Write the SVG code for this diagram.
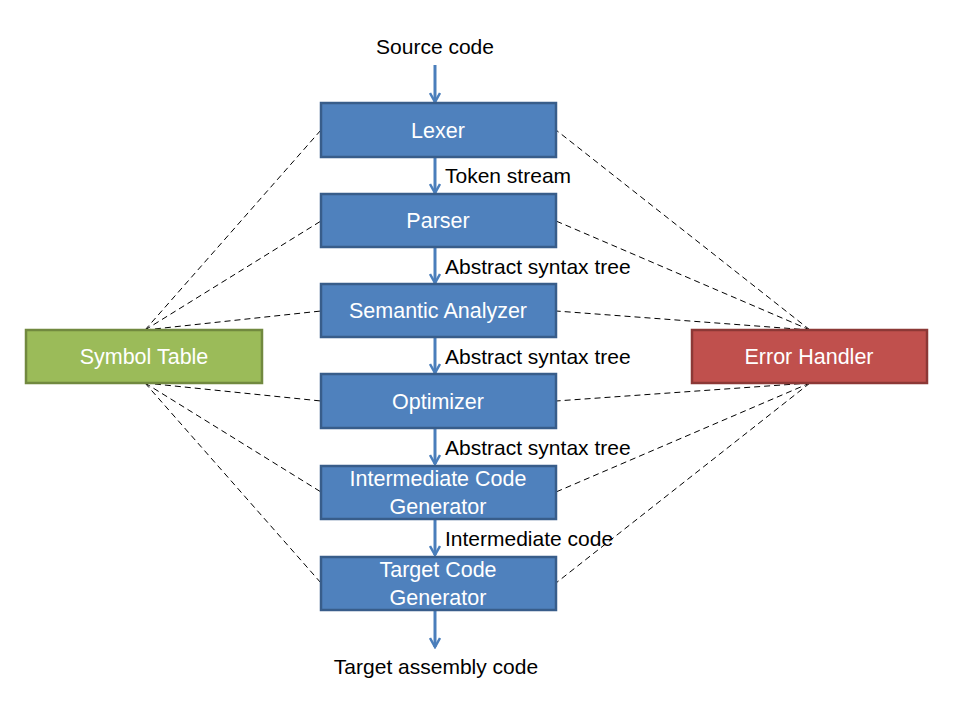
<svg xmlns="http://www.w3.org/2000/svg" width="960" height="720" viewBox="0 0 960 720">
<defs>
<marker id="ah" viewBox="0 0 12 12" refX="10" refY="6" markerWidth="12" markerHeight="12" markerUnits="userSpaceOnUse" orient="auto">
<polyline points="1,1 10,6 1,11" fill="none" stroke="#4a7ebb" stroke-width="2.5"/>
</marker>
<style>
.box{fill:#4f81bd;stroke:#385d8a;stroke-width:2.5}
.sym{fill:#9bbb59;stroke:#71893f;stroke-width:2.5}
.err{fill:#c0504d;stroke:#8c3836;stroke-width:2.5}
.bt{font-family:"Liberation Sans",Arial,sans-serif;font-size:21.5px;fill:#fff;text-anchor:middle}
.lt{font-family:"Liberation Sans",Arial,sans-serif;font-size:21px;fill:#000}
.flow{stroke:#4a7ebb;stroke-width:3;fill:none;marker-end:url(#ah)}
.dash{stroke:#000;stroke-width:1;stroke-dasharray:6 4;fill:none}
</style>
</defs>
<rect width="960" height="720" fill="#fff"/>
<g id="connectors">
<line class="dash" x1="145" y1="330" x2="321" y2="130"/>
<line class="dash" x1="145" y1="330" x2="321" y2="221"/>
<line class="dash" x1="145" y1="330" x2="321" y2="311"/>
<line class="dash" x1="145" y1="383" x2="321" y2="401"/>
<line class="dash" x1="145" y1="383" x2="321" y2="492"/>
<line class="dash" x1="145" y1="383" x2="321" y2="583"/>
<line class="dash" x1="810" y1="330" x2="556" y2="130"/>
<line class="dash" x1="810" y1="330" x2="556" y2="221"/>
<line class="dash" x1="810" y1="330" x2="556" y2="311"/>
<line class="dash" x1="810" y1="383" x2="556" y2="401"/>
<line class="dash" x1="810" y1="383" x2="556" y2="492"/>
<line class="dash" x1="810" y1="383" x2="556" y2="583"/>
<line class="flow" x1="435" y1="65" x2="435" y2="102"/>
<line class="flow" x1="435" y1="157" x2="435" y2="193"/>
<line class="flow" x1="435" y1="247" x2="435" y2="283"/>
<line class="flow" x1="435" y1="337" x2="435" y2="373"/>
<line class="flow" x1="435" y1="428" x2="435" y2="464"/>
<line class="flow" x1="435" y1="519" x2="435" y2="555"/>
<line class="flow" x1="435" y1="610" x2="435" y2="647"/>
<text class="lt" x="445" y="183">Token stream</text>
<text class="lt" x="445" y="274">Abstract syntax tree</text>
<text class="lt" x="445" y="364">Abstract syntax tree</text>
<text class="lt" x="445" y="455">Abstract syntax tree</text>
<text class="lt" x="445" y="546">Intermediate code</text>
</g>
<g id="source"><text class="lt" x="435" y="54" text-anchor="middle">Source code</text></g>
<g id="target"><text class="lt" x="436" y="674" text-anchor="middle">Target assembly code</text></g>
<g id="lexer"><rect class="box" x="321" y="103" width="235" height="54"/><text class="bt" x="438" y="138">Lexer</text></g>
<g id="parser"><rect class="box" x="321" y="194" width="235" height="53"/><text class="bt" x="438" y="228">Parser</text></g>
<g id="semantic"><rect class="box" x="321" y="284" width="235" height="53"/><text class="bt" x="438" y="318">Semantic Analyzer</text></g>
<g id="optimizer"><rect class="box" x="321" y="374" width="235" height="54"/><text class="bt" x="438" y="409">Optimizer</text></g>
<g id="icg"><rect class="box" x="321" y="466" width="235" height="53"/><text class="bt" x="438" y="486">Intermediate Code</text><text class="bt" x="438" y="514">Generator</text></g>
<g id="tcg"><rect class="box" x="321" y="557" width="235" height="53"/><text class="bt" x="438" y="577">Target Code</text><text class="bt" x="438" y="605">Generator</text></g>
<g id="symtab"><rect class="sym" x="26" y="330" width="236" height="53"/><text class="bt" x="144" y="364">Symbol Table</text></g>
<g id="errhandler"><rect class="err" x="692" y="330" width="235" height="53"/><text class="bt" x="809" y="364">Error Handler</text></g>
</svg>
